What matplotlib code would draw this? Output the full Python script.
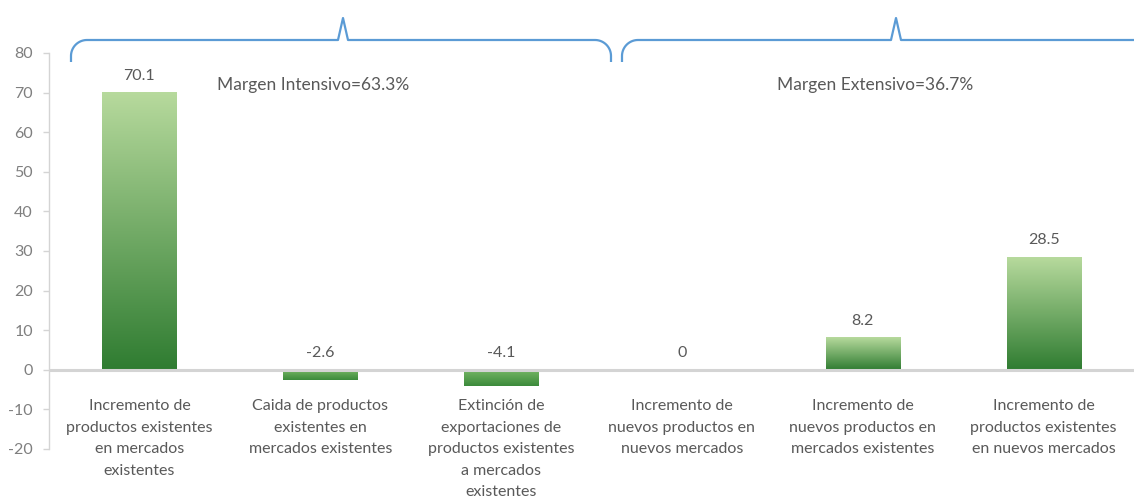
import numpy as np
import matplotlib
matplotlib.use("Agg")
import matplotlib.pyplot as plt
from matplotlib.colors import LinearSegmentedColormap
from matplotlib.path import Path
from matplotlib.patches import PathPatch

plt.rcParams['font.family'] = ['Lato', 'DejaVu Sans']

# Contribution to export growth by component (%)
categories = [
    "Incremento de\nproductos existentes\nen mercados\nexistentes",
    "Caida de productos\nexistentes en\nmercados existentes",
    "Extinción de\nexportaciones de\nproductos existentes\na mercados\nexistentes",
    "Incremento de\nnuevos productos en\nnuevos mercados",
    "Incremento de\nnuevos productos en\nmercados existentes",
    "Incremento de\nproductos existentes\nen nuevos mercados",
]
values = [70.1, -2.6, -4.1, 0, 8.2, 28.5]
yticks = [-20, -10, 0, 10, 20, 30, 40, 50, 60, 70, 80]
margin_labels = ["Margen Intensivo=63.3%", "Margen Extensivo=36.7%"]

W, H = 1134, 501
fig = plt.figure(figsize=(W / 100, H / 100), dpi=100)
ax_left, ax_right, ax_top, ax_bottom = 49, 1134, 53, 449
ax = fig.add_axes([ax_left / W, (H - ax_bottom) / H,
                   (ax_right - ax_left) / W, (ax_bottom - ax_top) / H])

n = len(values)
ax.set_xlim(-0.5, n - 0.5)
ax.set_ylim(-20, 80)

# pixel size of one data unit, used for the brace shapes
px_x = (ax_right - ax_left) / n
px_y = (ax_bottom - ax_top) / 100.0

grad_pos = LinearSegmentedColormap.from_list("gpos", ["#2f7c31", "#b7da9d"])
grad_neg = LinearSegmentedColormap.from_list("gneg", ["#3b8a3b", "#78b866"])
bar_w = 0.41
ramp = np.linspace(0, 1, 256).reshape(-1, 1)
for i, v in enumerate(values):
    if v == 0:
        continue
    lo, hi = min(0, v), max(0, v)
    cmap = grad_pos if v > 0 else grad_neg
    ax.imshow(ramp, cmap=cmap, origin="lower", aspect="auto",
              extent=[i - bar_w / 2, i + bar_w / 2, lo, hi], zorder=2,
              interpolation="bilinear")

# data labels
for i, v in enumerate(values):
    ax.annotate(f"{v:g}", xy=(i, max(v, 0)), xytext=(0, 12),
                textcoords="offset points", ha="center", va="center",
                fontsize=11.5, color="#595959", zorder=4)

# zero line
ax.axhline(0, color="#d4d4d4", lw=2.2, zorder=3)

# axes styling
for s in ["top", "right", "bottom"]:
    ax.spines[s].set_visible(False)
ax.spines["left"].set_color("#d4d4d4")
ax.spines["left"].set_linewidth(1.0)
ax.set_yticks(yticks)
ax.set_yticklabels([str(t) for t in yticks])
ax.tick_params(axis="y", direction="out", length=4.5, width=1.0,
               color="#d4d4d4", labelcolor="#7f7f7f", labelsize=11.5, pad=7)
ax.set_xticks([])

# category labels under the axis
for i, lab in enumerate(categories):
    ax.text(i, -7.4, lab, ha="center", va="top", fontsize=11.5,
            color="#595959", linespacing=1.68)


def brace(x0, x1, xp, y_line_px=40, y_tip_px=62, y_peak_px=18,
          r_px=16, half_base_px=5, n_arc=20):
    """Curly brace drawn in data units; sizes given in pixels."""
    def ydat(py):
        return (ax_bottom - py) / px_y - 20
    yl, yt, yk = ydat(y_line_px), ydat(y_tip_px), ydat(y_peak_px)
    rx, ry = r_px / px_x, r_px / px_y
    hb = half_base_px / px_x
    pts = [(x0, yt), (x0, yl - ry)]
    t = np.linspace(np.pi, np.pi / 2, n_arc)
    pts += list(zip(x0 + rx + rx * np.cos(t), yl - ry + ry * np.sin(t)))
    pts += [(xp - hb, yl), (xp, yk), (xp + hb, yl), (x1 - rx, yl)]
    t = np.linspace(np.pi / 2, 0, n_arc)
    pts += list(zip(x1 - rx + rx * np.cos(t), yl - ry + ry * np.sin(t)))
    pts += [(x1, yt)]
    path = Path(pts)
    ax.add_patch(PathPatch(path, fill=False, edgecolor="#5b9bd5", lw=1.6,
                           clip_on=False, zorder=5, joinstyle="round"))


def cat(px):
    return (px - ax_left) / px_x - 0.5


brace(cat(71), cat(611), cat(343))
brace(cat(622), cat(1170), cat(896))

ax.text(cat(313), 72, margin_labels[0], ha="center", va="center",
        fontsize=12.5, color="#595959")
ax.text(cat(875), 72, margin_labels[1], ha="center", va="center",
        fontsize=12.5, color="#595959")

fig.savefig("out.png", dpi=100)
